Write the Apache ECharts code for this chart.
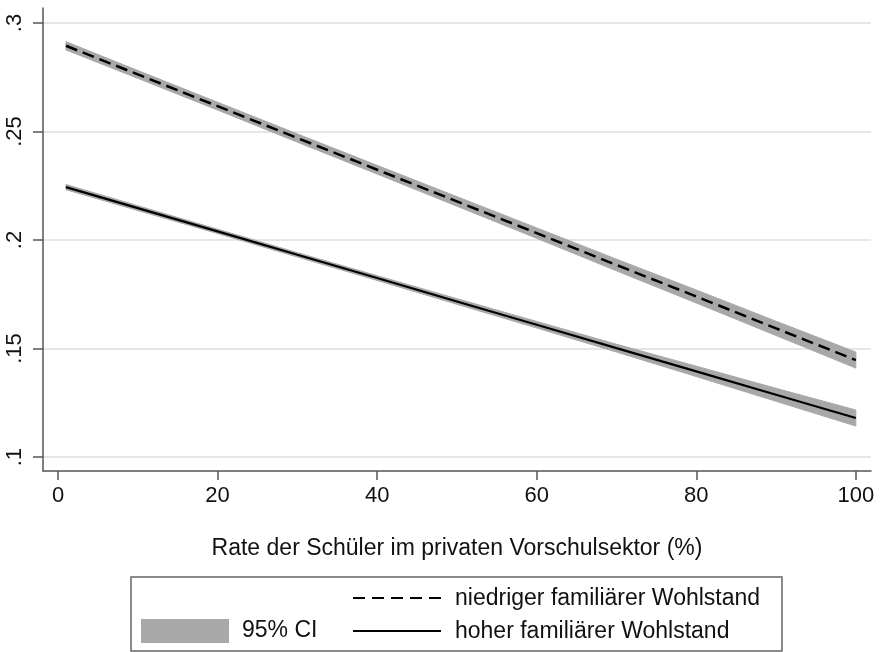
<!DOCTYPE html>
<html>
<head>
<meta charset="utf-8">
<script src="https://cdn.jsdelivr.net/npm/echarts@6/dist/echarts.min.js"></script>
<style>
html,body{margin:0;padding:0;background:#fff;}
#chart{width:880px;height:652px;}
</style>
</head>
<body>
<div id="chart"></div>
<script>
// ---- data ----
var xValues = [1, 10, 20, 30, 40, 50, 60, 70, 80, 90, 100];
var lowWealth      = [0.2895, 0.2763, 0.2617, 0.2470, 0.2324, 0.2178, 0.2032, 0.1885, 0.1740, 0.1593, 0.1447];
var lowWealthLo    = [0.2876, 0.2745, 0.2599, 0.2451, 0.2304, 0.2156, 0.2008, 0.1858, 0.1710, 0.1560, 0.1410];
var lowWealthHi    = [0.2914, 0.2781, 0.2635, 0.2489, 0.2344, 0.2200, 0.2056, 0.1912, 0.1770, 0.1626, 0.1484];
var highWealth     = [0.2244, 0.2147, 0.2040, 0.1932, 0.1825, 0.1717, 0.1610, 0.1502, 0.1395, 0.1287, 0.1180];
var highWealthLo   = [0.2232, 0.2136, 0.2030, 0.1922, 0.1814, 0.1704, 0.1595, 0.1484, 0.1371, 0.1257, 0.1143];
var highWealthHi   = [0.2256, 0.2158, 0.2050, 0.1942, 0.1836, 0.1730, 0.1625, 0.1520, 0.1419, 0.1317, 0.1217];
var xTicks = [0, 20, 40, 60, 80, 100];
var yTicks = [0.1, 0.15, 0.2, 0.25, 0.3];
var yTickLabels = ['.1', '.15', '.2', '.25', '.3'];
var xTitle = 'Rate der Schüler im privaten Vorschulsektor (%)';
var legendLow = 'niedriger familiärer Wohlstand';
var legendHigh = 'hoher familiärer Wohlstand';
var legendCI = '95% CI';

function pairs(xs, ys) { return xs.map(function (x, i) { return [x, ys[i]]; }); }
function bandData(xs, lo, hi) { return xs.map(function (x, i) { return [x, lo[i], hi[i]]; }); }

var FONT = 'Liberation Sans, Arial, sans-serif';
var BAND = '#a8a8a8';
var AXIS = '#555555';

function bandRenderer(rows) {
  return function (params, api) {
    if (params.dataIndex !== 0) return null;
    var pts = [];
    var i;
    for (i = 0; i < rows.length; i++) pts.push(api.coord([rows[i][0], rows[i][2]]));
    for (i = rows.length - 1; i >= 0; i--) pts.push(api.coord([rows[i][0], rows[i][1]]));
    return {type: 'polygon', shape: {points: pts}, style: {fill: BAND, stroke: BAND, lineWidth: 1}};
  };
}

var lowBand = bandData(xValues, lowWealthLo, lowWealthHi);
var highBand = bandData(xValues, highWealthLo, highWealthHi);

var chart = echarts.init(document.getElementById('chart'), null, {renderer: 'canvas'});
var option = {
  animation: false,
  backgroundColor: '#ffffff',
  grid: [
    {left: 43, right: 9, top: 8, bottom: 181, containLabel: false},
    {left: 43, right: 9, top: 23, bottom: 195, containLabel: false}
  ],
  xAxis: [
    {
      type: 'value', gridIndex: 0, min: -1.88, max: 101.9,
      axisLine: {show: true, onZero: false, lineStyle: {color: AXIS, width: 1.5}},
      axisTick: {show: true, length: 9, customValues: xTicks, lineStyle: {color: AXIS, width: 1.5}},
      axisLabel: {customValues: xTicks, color: '#111', fontFamily: FONT, fontSize: 22, margin: 14},
      splitLine: {show: false},
      name: xTitle, nameLocation: 'middle', nameGap: 66,
      nameTextStyle: {color: '#111', fontFamily: FONT, fontSize: 23}
    },
    {type: 'value', gridIndex: 1, min: 0, max: 1, show: false}
  ],
  yAxis: [
    {
      type: 'value', gridIndex: 0, min: 0.0936, max: 0.3069,
      axisLine: {show: true, onZero: false, lineStyle: {color: AXIS, width: 1.5}},
      axisTick: {show: true, length: 10, customValues: yTicks, lineStyle: {color: AXIS, width: 1.5}},
      axisLabel: {
        customValues: yTicks, rotate: 90, color: '#111', fontFamily: FONT, fontSize: 22, margin: 17,
        formatter: function (v) { var i = yTicks.findIndex(function (t) { return Math.abs(t - v) < 1e-9; }); return i >= 0 ? yTickLabels[i] : ''; }
      },
      splitLine: {show: false}
    },
    {
      type: 'value', gridIndex: 1, min: 0.1, max: 0.3, interval: 0.05,
      axisLine: {show: false}, axisTick: {show: false}, axisLabel: {show: false},
      splitLine: {show: true, lineStyle: {color: '#e6e6e6', width: 2}}
    }
  ],
  series: [
    {type: 'custom', xAxisIndex: 0, yAxisIndex: 0, data: lowBand, renderItem: bandRenderer(lowBand), silent: true, z: 2},
    {type: 'custom', xAxisIndex: 0, yAxisIndex: 0, data: highBand, renderItem: bandRenderer(highBand), silent: true, z: 2},
    {type: 'line', name: legendLow, xAxisIndex: 0, yAxisIndex: 0, data: pairs(xValues, lowWealth),
     symbol: 'none', lineStyle: {color: '#000', width: 2.5, type: [12, 6]}, z: 3},
    {type: 'line', name: legendHigh, xAxisIndex: 0, yAxisIndex: 0, data: pairs(xValues, highWealth),
     symbol: 'none', lineStyle: {color: '#000', width: 2.2}, z: 3}
  ],
  graphic: [
    {type: 'rect', shape: {x: 131, y: 577, width: 651, height: 74},
     style: {fill: '#fff', stroke: '#666', lineWidth: 1.5}, z: 10},
    {type: 'rect', shape: {x: 141, y: 619, width: 88, height: 24},
     style: {fill: BAND}, z: 11},
    {type: 'text', x: 242, y: 631, style: {text: legendCI, fill: '#111', font: '23px ' + FONT, textVerticalAlign: 'middle'}, z: 11},
    {type: 'line', shape: {x1: 353, y1: 598, x2: 441, y2: 598},
     style: {stroke: '#000', lineWidth: 2.2, lineDash: [12, 7]}, z: 11},
    {type: 'line', shape: {x1: 353, y1: 631, x2: 441, y2: 631},
     style: {stroke: '#000', lineWidth: 2.2}, z: 11},
    {type: 'text', x: 455, y: 599, style: {text: legendLow, fill: '#111', font: '23px ' + FONT, textVerticalAlign: 'middle'}, z: 11},
    {type: 'text', x: 455, y: 632, style: {text: legendHigh, fill: '#111', font: '23px ' + FONT, textVerticalAlign: 'middle'}, z: 11}
  ]
};
chart.setOption(option);
</script>
</body>
</html>
